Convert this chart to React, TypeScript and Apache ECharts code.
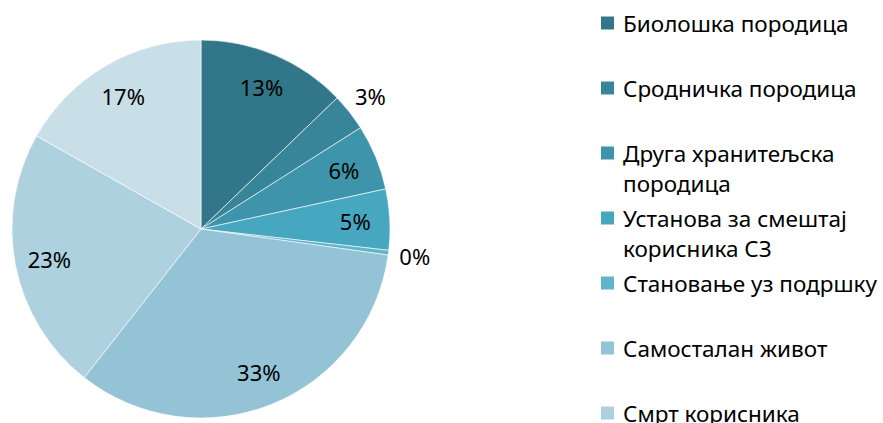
import React, { useEffect, useRef } from "react";
import * as echarts from "echarts";

const categories = [
  "Биолошка породица",
  "Сродничка породица",
  "Друга хранитељска\nпородица",
  "Установа за смештај\nкорисника СЗ",
  "Становање уз подршку",
  "Самосталан живот",
  "Смрт корисника",
  "Остало",
];
const shares = [12.8, 3.2, 5.6, 5.2, 0.4, 33.4, 22.6, 16.8];
const legendItems = categories.slice(0, 7);
const colors = [
  "#327789",
  "#38859A",
  "#3E94AB",
  "#47A7C1",
  "#62B4CB",
  "#94C3D5",
  "#ADD1DE",
  "#C8DFE7",
];

const FONT = "Noto Sans";
const LEGEND_FS = 22.5;
const LABEL_FS = 22;
const LH = 30;

export default function App() {
  const ref = useRef<HTMLDivElement>(null);
  useEffect(() => {
    document.body.style.margin = "0";
    const chart = echarts.init(ref.current!, null, { renderer: "svg" });
    const data = categories.map((name, i) => ({
      name,
      value: shares[i],
      itemStyle: { color: colors[i] },
    }));
    const total = shares.reduce((a, b) => a + b, 0);
    const pct = (p: any) => Math.round((p.value / total) * 100) + "%";
    const isSmall = (v: number) => (v / total) * 100 < 4;
    const center = [201, 229];
    const R = 189;
    const labelCommon = {
      position: "inside",
      color: "#000",
      fontFamily: FONT,
      fontSize: LABEL_FS,
      formatter: pct,
    };
    chart.setOption({
      animation: false,
      legend: {
        orient: "vertical",
        left: 599,
        top: -22,
        height: 900,
        padding: 0,
        itemWidth: 15,
        itemHeight: 15,
        itemGap: -25,
        selectedMode: false,
        icon: "rect",
        formatter: (name: string) => (name.includes("\n") ? "\n" + name : name),
        textStyle: {
          fontFamily: FONT,
          fontSize: LEGEND_FS,
          lineHeight: LH,
          color: "#000",
        },
        data: legendItems.map((name) => ({
          name,
          textStyle: {
            backgroundColor: "rgba(0,0,0,0)",
            padding: name.includes("\n") ? [0, 0, 0, 3] : [LH, 0, LH, 3],
          },
        })),
      },
      series: [
        {
          type: "pie",
          center,
          radius: [0, R],
          startAngle: 90,
          clockwise: true,
          silent: true,
          label: { show: false },
          labelLine: { show: false },
          itemStyle: { borderColor: "#ffffff", borderWidth: 0.6 },
          data,
        },
        {
          type: "pie",
          center,
          radius: [114, R],
          startAngle: 90,
          clockwise: true,
          silent: true,
          itemStyle: { color: "rgba(0,0,0,0)" },
          labelLine: { show: false },
          label: labelCommon,
          data: categories.map((name, i) => ({
            name,
            value: shares[i],
            label: { show: !isSmall(shares[i]) },
          })),
        },
        {
          type: "pie",
          center,
          radius: [R, 236],
          startAngle: 90,
          clockwise: true,
          silent: true,
          itemStyle: { color: "rgba(0,0,0,0)" },
          labelLine: { show: false },
          label: labelCommon,
          data: categories.map((name, i) => ({
            name,
            value: shares[i],
            label: { show: isSmall(shares[i]) },
          })),
        },
      ],
    });
    return () => chart.dispose();
  }, []);
  return <div ref={ref} style={{ width: 883, height: 423 }} />;
}
